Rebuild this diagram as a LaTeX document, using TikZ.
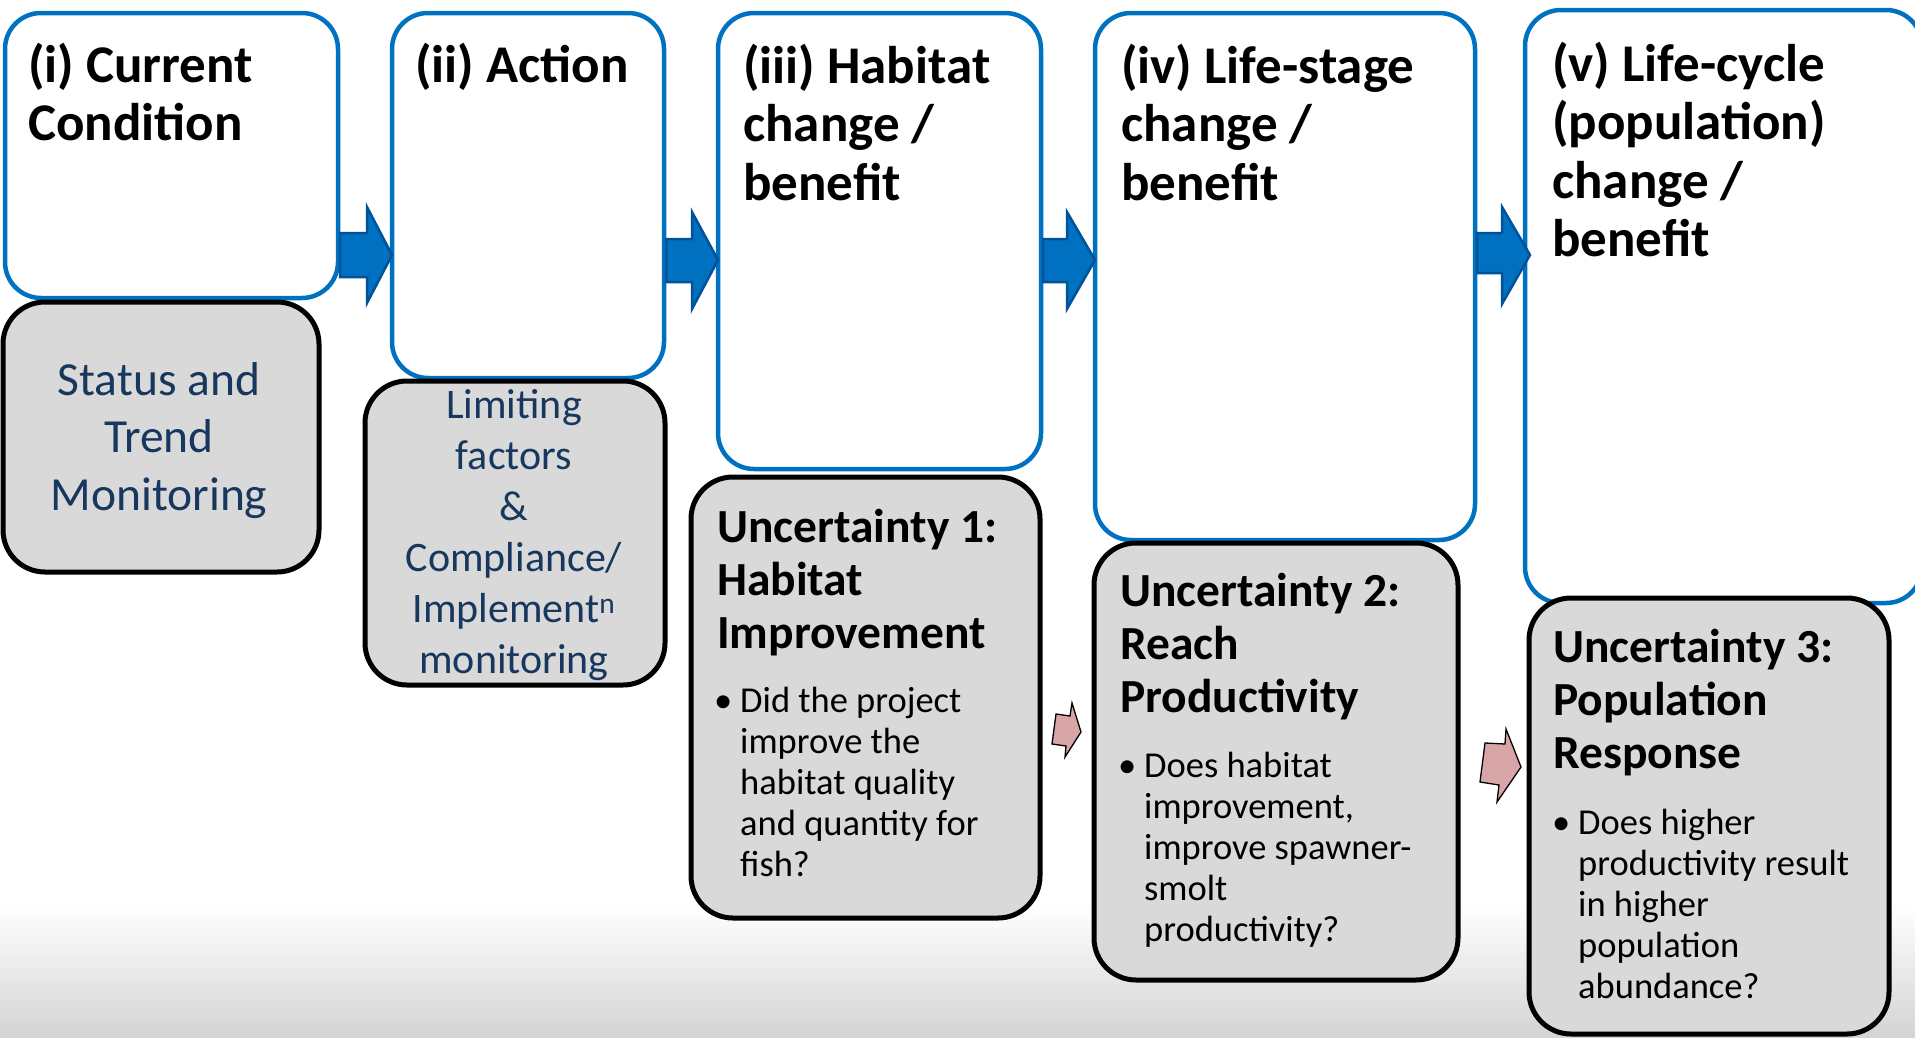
\documentclass[tikz,border=0pt]{standalone}
\usepackage{fontspec}
\setmainfont{Carlito}
\definecolor{boxblue}{HTML}{0070C0}
\definecolor{arrfill}{HTML}{0070C0}
\definecolor{arrline}{HTML}{00529B}
\definecolor{grayfill}{HTML}{D9D9D9}
\definecolor{navytext}{HTML}{17375E}
\definecolor{pinkfill}{RGB}{217,166,168}
\newcommand\tstr[1]{\rule{0pt}{#1}}
\newcommand\bul{\llap{\textbullet\hspace{8pt}}}
\begin{document}
\begin{tikzpicture}[x=1pt,y=-1pt,
  bluebox/.style={draw=boxblue, line width=4.5pt, fill=white, rounded corners=36pt, anchor=north west, inner sep=0pt, outer sep=0pt},
  graybox/.style={draw=black, line width=5pt, fill=grayfill, rounded corners=42pt, anchor=north west, inner sep=0pt, outer sep=0pt},
  blockarrow/.style={fill=arrfill, draw=arrline, line width=2.5pt, line join=miter},
  pinkarrow/.style={fill=pinkfill, draw=black, line width=1.3pt, line join=miter},
  titletext/.style={anchor=north west, inner sep=0pt, align=left, font=\fontsize{53}{58.5}\selectfont\bfseries},
  monitext/.style={anchor=north, inner sep=0pt, align=center, text=navytext},
  unctitle/.style={anchor=north west, inner sep=0pt, align=left, font=\fontsize{47.5}{53}\selectfont\bfseries},
  bullettext/.style={anchor=north west, inner sep=0pt, align=left, font=\fontsize{36.5}{41}\selectfont}
]
\useasboundingbox (0,0) rectangle (1915,1037);
\clip (0,0) rectangle (1915,1037);
% background
\fill[white] (0,0) rectangle (1915,1037);
\shade[top color=white, bottom color=black!17] (0,905) rectangle (1915,1037);

% boxes
\node[bluebox, minimum width=333pt, minimum height=285pt] (b1) at (5,13) {};
\node[graybox, minimum width=316pt, minimum height=270pt] (g1) at (3,302) {};
\node[bluebox, minimum width=272pt, minimum height=365pt] (b2) at (392,13) {};
\node[graybox, minimum width=300pt, minimum height=304pt] (g2) at (365,381) {};
\node[bluebox, minimum width=323pt, minimum height=456pt] (b3) at (718,13) {};
\node[graybox, minimum width=349pt, minimum height=441pt] (g3) at (691,477) {};
\node[bluebox, minimum width=380pt, minimum height=527pt] (b4) at (1095,13) {};
\node[graybox, minimum width=364pt, minimum height=437pt] (g4) at (1094,543) {};
\node[bluebox, minimum width=397pt, minimum height=593pt] (b5) at (1525,10) {};
\node[graybox, minimum width=360pt, minimum height=436pt] (g5) at (1529,598) {};

% block arrows
\coordinate (a1s) at ([xshift=2pt]b1.east);
\coordinate (a1h) at ([xshift=-25pt]b2.west);
\coordinate (a1t) at (b2.west);
\draw[blockarrow] (a1s |- 0,233) -- (a1h |- 0,233) -- (a1h |- 0,207) -- (a1t |- 0,255)
  -- (a1h |- 0,303) -- (a1h |- 0,277) -- (a1s |- 0,277) -- cycle;
\coordinate (a2s) at ([xshift=2pt]b2.east);
\coordinate (a2h) at ([xshift=-26pt]b3.west);
\coordinate (a2t) at (b3.west);
\draw[blockarrow] (a2s |- 0,239) -- (a2h |- 0,239) -- (a2h |- 0,212) -- (a2t |- 0,260)
  -- (a2h |- 0,309) -- (a2h |- 0,282) -- (a2s |- 0,282) -- cycle;
\coordinate (a3s) at ([xshift=2pt]b3.east);
\coordinate (a3h) at ([xshift=-28pt]b4.west);
\coordinate (a3t) at (b4.west);
\draw[blockarrow] (a3s |- 0,239) -- (a3h |- 0,239) -- (a3h |- 0,212) -- (a3t |- 0,260)
  -- (a3h |- 0,309) -- (a3h |- 0,282) -- (a3s |- 0,282) -- cycle;
\coordinate (a4s) at ([xshift=2pt]b4.east);
\coordinate (a4h) at ([xshift=-23pt]b5.west);
\coordinate (a4t) at ([xshift=5pt]b5.west);
\draw[blockarrow] (a4s |- 0,233) -- (a4h |- 0,233) -- (a4h |- 0,207) -- (a4t |- 0,255)
  -- (a4h |- 0,304) -- (a4h |- 0,273) -- (a4s |- 0,273) -- cycle;

% pink arrows
\draw[pinkarrow] (1056,714) -- (1070,716) -- (1072,703) -- (1081,732) -- (1065,757) -- (1066,746) -- (1052,744) -- cycle;
\draw[pinkarrow] (1480,782) -- (1485,743) -- (1505,744) -- (1506,729) -- (1521,767) -- (1497,802) -- (1499,785) -- cycle;

% titles
\node[titletext] (t1) at (28,37) {\tstr{45pt}(i) Current\\Condition};
\node[titletext] (t2) at (415,37) {\tstr{45pt}(ii) Action};
\node[titletext] (t3) at (743,38) {\tstr{45pt}(iii) Habitat\\change /\\benefit};
\node[titletext] (t4) at (1121,38) {\tstr{45pt}(iv) Life-stage\\change /\\benefit};
\node[titletext] (t5) at (1552,36) {\tstr{45pt}(v) Life-cycle\\(population)\\change /\\benefit};

% monitoring texts
\node[monitext, font=\fontsize{47.5}{57.5}\selectfont] (m1) at (159,355) {\tstr{40pt}Status and\\Trend\\Monitoring};
\node[monitext, font=\fontsize{42}{51}\selectfont] (m2) at (514,382) {\tstr{36pt}Limiting\\factors\\\&\\Compliance/\\Implement\textsuperscript{n}\\monitoring};

% uncertainty titles
\node[unctitle] (u1) at (717,502) {\tstr{40pt}Uncertainty 1:\\Habitat\\Improvement};
\node[unctitle] (u2) at (1120,566) {\tstr{40pt}Uncertainty 2:\\Reach\\Productivity};
\node[unctitle] (u3) at (1553,622) {\tstr{40pt}Uncertainty 3:\\Population\\Response};

% bullets
\node[bullettext] (q1) at (740,682) {\tstr{30pt}\bul Did the project\\improve the\\habitat quality\\and quantity for\\fish?};
\node[bullettext] (q2) at (1144,747) {\tstr{30pt}\bul Does habitat\\improvement,\\improve spawner-\\smolt\\productivity?};
\node[bullettext] (q3) at (1578,804) {\tstr{30pt}\bul Does higher\\productivity result\\in higher\\population\\abundance?};
\end{tikzpicture}
\end{document}
